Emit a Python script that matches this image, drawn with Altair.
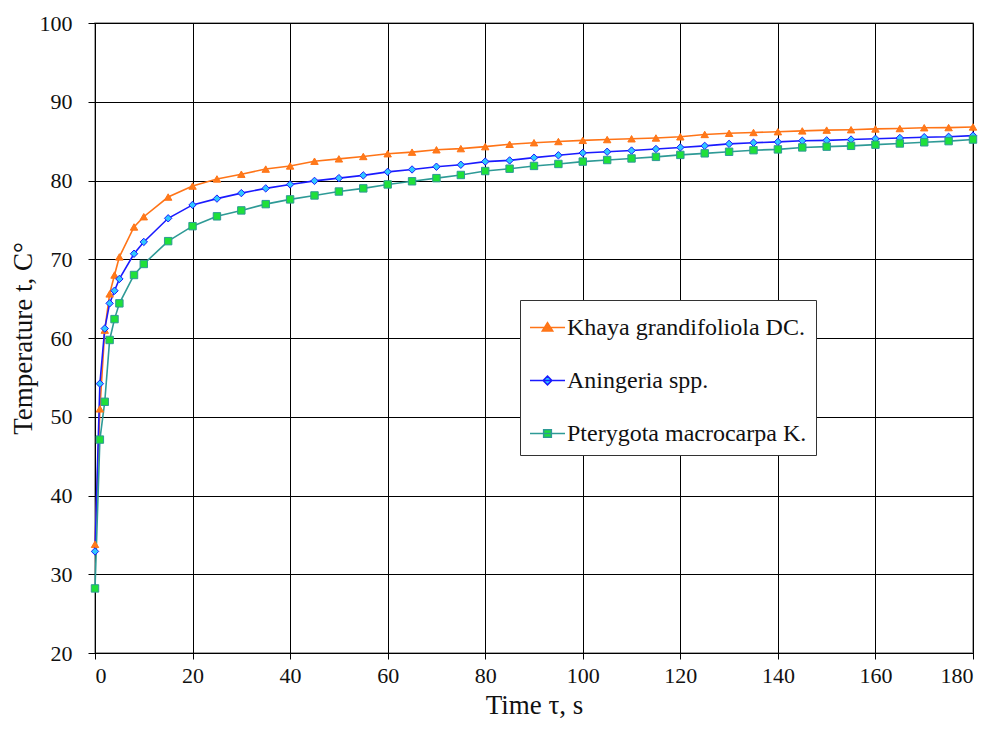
import altair as alt
import pandas as pd

times = [0, 1, 2, 3, 4, 5, 8, 10, 15, 20, 25, 30, 35, 40, 45, 50, 55, 60, 65, 70, 75,
         80, 85, 90, 95, 100, 105, 110, 115, 120, 125, 130, 135, 140, 145, 150, 155,
         160, 165, 170, 175, 180]

khaya = [33.8, 51.0, 61.0, 65.6, 68.0, 70.3, 74.1, 75.4, 77.9, 79.3, 80.2, 80.8, 81.45,
         81.85, 82.45, 82.75, 83.05, 83.4, 83.6, 83.9, 84.05, 84.3, 84.6, 84.8, 84.95,
         85.1, 85.2, 85.3, 85.4, 85.55, 85.85, 86.0, 86.1, 86.2, 86.3, 86.4, 86.45,
         86.55, 86.6, 86.7, 86.72, 86.8]

aningeria = [32.9, 54.2, 61.2, 64.4, 66.0, 67.5, 70.7, 72.2, 75.2, 76.9, 77.7, 78.4, 79.0,
             79.5, 79.95, 80.3, 80.65, 81.1, 81.4, 81.75, 82.0, 82.4, 82.55, 82.9, 83.2,
             83.5, 83.65, 83.8, 84.0, 84.2, 84.4, 84.65, 84.8, 84.9, 85.05, 85.1, 85.2,
             85.3, 85.4, 85.5, 85.55, 85.7]

pterygota = [28.2, 47.1, 51.9, 59.75, 62.4, 64.4, 68.0, 69.4, 72.3, 74.2, 75.45, 76.2, 77.0,
             77.6, 78.1, 78.6, 79.0, 79.5, 79.9, 80.3, 80.7, 81.2, 81.5, 81.85, 82.1,
             82.4, 82.6, 82.8, 83.0, 83.25, 83.45, 83.65, 83.85, 83.95, 84.2, 84.3, 84.4,
             84.55, 84.7, 84.85, 85.0, 85.2]

series_names = ["Khaya grandifoliola DC.", "Aningeria spp.", "Pterygota macrocarpa K."]
line_colors = ["#FF7417", "#1A1AFF", "#2E9A96"]
fill_colors = ["#FF7A1A", "#2FC8FF", "#1FE03A"]
plot_shapes = ["triangle-up", "diamond", "square"]
legend_shapes = [
    "M-1,0H1M0,-0.28L0.3,0.2H-0.3Z",
    "M-1,0H1M0,-0.25L0.25,0L0,0.25L-0.25,0Z",
    "M-1,0H1M-0.22,-0.22H0.22V0.22H-0.22Z",
]

rows = []
for name, vals in zip(series_names, [khaya, aningeria, pterygota]):
    for t, v in zip(times, vals):
        rows.append({"time": t, "temp": v, "series": name})
df = pd.DataFrame(rows)

FONT = "Liberation Serif"

x = alt.X("time:Q", title="Time τ, s",
          scale=alt.Scale(domain=[0, 180], nice=False),
          axis=alt.Axis(values=list(range(0, 181, 20)), labelFontSize=22, titleFontSize=27,
                        labelFont=FONT, titleFont=FONT, labelColor="#111", titleColor="#111",
                        grid=True, gridColor="#000", gridWidth=1, tickSize=6,
                        tickColor="#000", domainColor="#000", labelPadding=6, titlePadding=6,
                        titleFontWeight="normal"))
y = alt.Y("temp:Q", title="Temperature t, C°",
          scale=alt.Scale(domain=[20, 100], nice=False, zero=False),
          axis=alt.Axis(values=list(range(20, 101, 10)), labelFontSize=22, titleFontSize=27,
                        labelFont=FONT, titleFont=FONT, labelColor="#111", titleColor="#111",
                        grid=True, gridColor="#000", gridWidth=1, tickSize=7,
                        tickColor="#000", domainColor="#000", labelPadding=16, titlePadding=2,
                        titleFontWeight="normal"))

stroke_scale = alt.Scale(domain=series_names, range=line_colors)
fill_scale = alt.Scale(domain=series_names, range=fill_colors)

lines = alt.Chart(df).mark_line(strokeWidth=1.6).encode(
    x=x, y=y,
    stroke=alt.Stroke("series:N", scale=stroke_scale, legend=None),
    detail="series:N",
)

points = alt.Chart(df).mark_point(filled=True, size=55, strokeWidth=1, opacity=1).encode(
    x=x, y=y,
    fill=alt.Fill("series:N", scale=fill_scale, legend=None),
    stroke=alt.Stroke("series:N", scale=stroke_scale, legend=None),
    shape=alt.Shape("series:N", scale=alt.Scale(domain=series_names, range=plot_shapes), legend=None),
)

leg = alt.Legend(title=None, orient="none", legendX=425, legendY=277,
                 labelFont=FONT, labelFontSize=24, labelColor="#111",
                 symbolSize=1225, symbolStrokeWidth=1.5, symbolType="circle",
                 padding=9, rowPadding=22, labelOffset=1, labelLimit=400,
                 fillColor="white", strokeColor="#333", cornerRadius=0)

legend_layer = alt.Chart(df).transform_filter("false").mark_point(
    filled=True, size=1225, strokeWidth=1.5, opacity=1).encode(
    x=x, y=y,
    fill=alt.Fill("series:N", scale=fill_scale, legend=leg),
    stroke=alt.Stroke("series:N", scale=stroke_scale, legend=leg),
    shape=alt.Shape("series:N", scale=alt.Scale(domain=series_names, range=legend_shapes), legend=leg),
)

chart = alt.layer(lines, points, legend_layer).resolve_scale(
    shape="independent", fill="independent", stroke="independent"
).properties(
    width=878, height=630,
    autosize=alt.AutoSizeParams(type="none"),
    padding={"left": 87, "top": 15, "right": 8, "bottom": 66},
    background="white",
).configure_view(stroke="#888", strokeWidth=1.5)

chart.save("out.html", embed_options={"renderer": "svg", "actions": False})
